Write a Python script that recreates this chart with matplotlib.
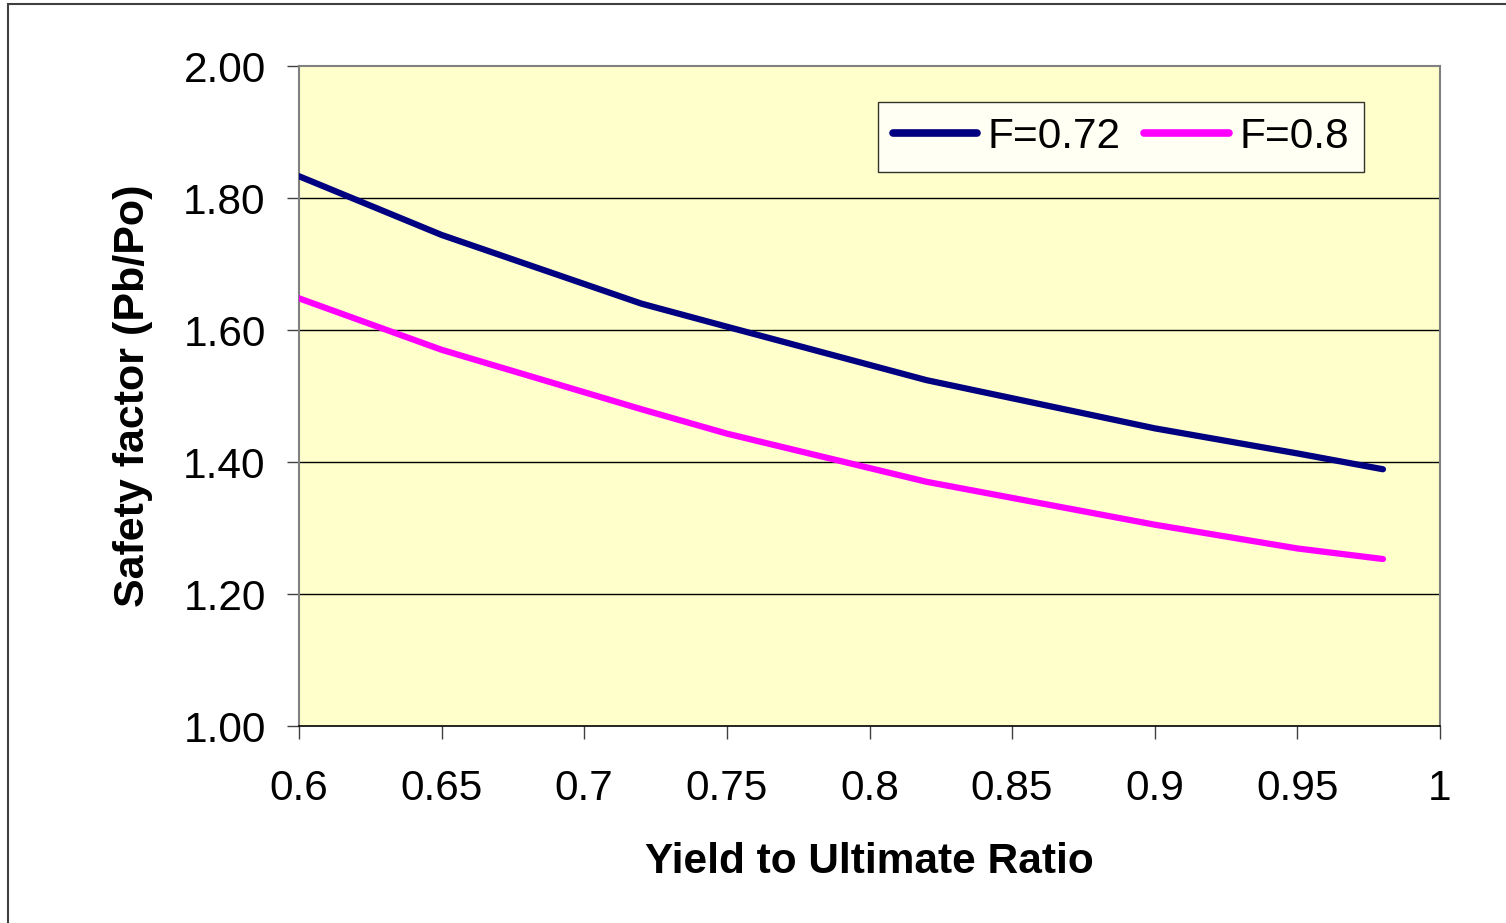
import matplotlib
matplotlib.use("Agg")
import matplotlib.pyplot as plt
from matplotlib.patches import Rectangle

# data
ratio = [0.60, 0.65, 0.72, 0.75, 0.82, 0.90, 0.95, 0.98]
sf_072 = [1.833, 1.744, 1.640, 1.605, 1.524, 1.451, 1.413, 1.389]
sf_080 = [1.648, 1.570, 1.480, 1.443, 1.370, 1.305, 1.269, 1.253]

x_ticks = [0.6, 0.65, 0.7, 0.75, 0.8, 0.85, 0.9, 0.95, 1.0]
x_labels = ["0.6", "0.65", "0.7", "0.75", "0.8", "0.85", "0.9", "0.95", "1"]
y_ticks = [1.0, 1.2, 1.4, 1.6, 1.8, 2.0]
y_labels = ["1.00", "1.20", "1.40", "1.60", "1.80", "2.00"]

plt.rcParams['font.family'] = ['Liberation Sans', 'DejaVu Sans']

fig = plt.figure(figsize=(15.06, 9.23), dpi=100)
ax = fig.add_axes([299/1506, 1-726/923, (1440-299)/1506, (726-66)/923])
ax.set_facecolor('#FFFFCC')

# outer chart border
fig.patches.append(Rectangle((8/1506, -0.1), 1.2, 1-4/923+0.1, transform=fig.transFigure,
                             fill=False, edgecolor='#404040', linewidth=1.5))

for y in y_ticks[1:-1]:
    ax.axhline(y, color='black', linewidth=1.0, zorder=1)

ax.plot(ratio, sf_072, color='#000080', linewidth=4.5, solid_capstyle='round',
        label='F=0.72', zorder=3)
ax.plot(ratio, sf_080, color='#FF00FF', linewidth=4.5, solid_capstyle='round',
        label='F=0.8', zorder=3)

ax.set_xlim(0.6, 1.0)
ax.set_ylim(1.0, 2.0)
ax.set_xticks(x_ticks)
ax.set_xticklabels(x_labels)
ax.set_yticks(y_ticks)
ax.set_yticklabels(y_labels)
ax.tick_params(axis='both', labelsize=30.5, direction='out', length=9, width=1,
               color='#404040')
ax.tick_params(axis='x', pad=22)
ax.tick_params(axis='y', pad=15)

for side in ['left', 'top', 'right']:
    ax.spines[side].set_color('#808080')
    ax.spines[side].set_linewidth(1.5)
ax.spines['bottom'].set_color('black')
ax.spines['bottom'].set_linewidth(1.2)

ax.set_xlabel('Yield to Ultimate Ratio', fontsize=30.5, fontweight='bold', labelpad=24)
ax.set_ylabel('Safety factor (Pb/Po)', fontsize=31, fontweight='bold', labelpad=22)

leg = ax.legend(loc='upper right', ncol=2, fontsize=30.5, frameon=True, fancybox=False,
                bbox_to_anchor=((1364-299)/1141, (726-102)/660), borderaxespad=0,
                handlelength=2.0, handletextpad=0.25, columnspacing=0.55,
                borderpad=0.35)
leg.get_frame().set_edgecolor('black')
leg.get_frame().set_linewidth(1.0)
leg.get_frame().set_facecolor('white')
for line in leg.get_lines():
    line.set_linewidth(5.5)

fig.savefig('out.png', dpi=100)
